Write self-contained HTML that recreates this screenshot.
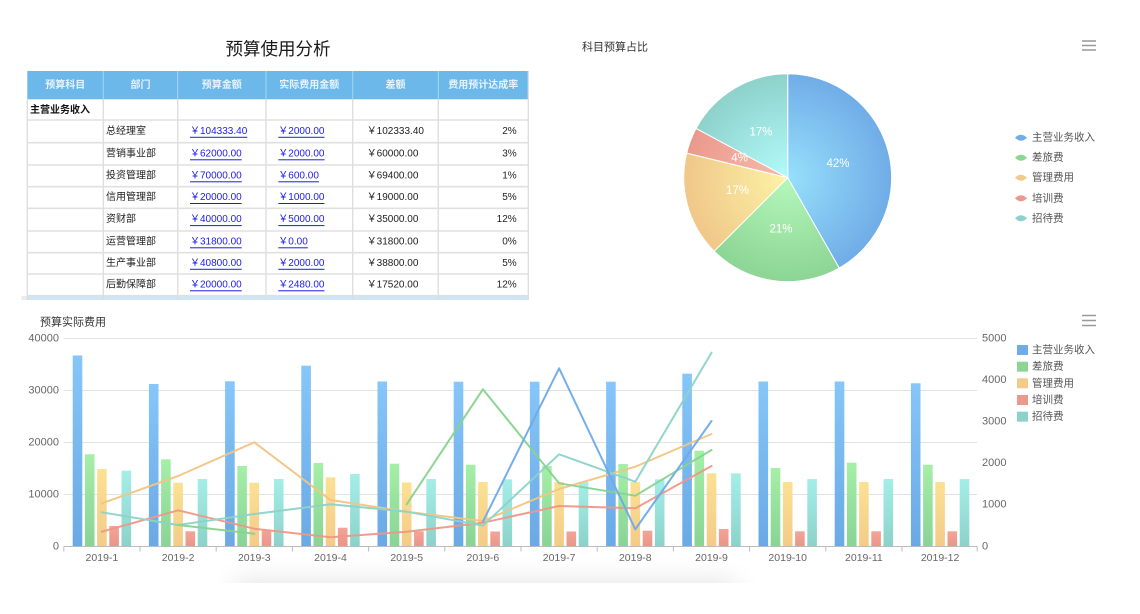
<!DOCTYPE html>
<html><head><meta charset="utf-8">
<style>
html,body{margin:0;padding:0;background:#fff;overflow:hidden;width:1140px;height:614px;}
body{position:relative;}
svg{position:absolute;left:0;top:0;display:block;}
text{font-family:"Liberation Sans","Noto Sans CJK SC",sans-serif;}
.sh{position:absolute;left:235px;top:583px;width:500px;height:31px;background:#fff;box-shadow:0 0 28px rgba(0,0,0,0.13);}
.cv{position:absolute;left:0;top:583px;width:1140px;height:31px;background:#fff;}
</style></head><body>
<div class="sh"></div><div class="cv"></div>
<svg width="1140" height="614" viewBox="0 0 1140 614" xmlns="http://www.w3.org/2000/svg">
<defs>
<linearGradient id="gb" x1="0" y1="0" x2="0" y2="1"><stop offset="0" stop-color="#86c6f9"/><stop offset="1" stop-color="#6aa9e5"/></linearGradient>
<linearGradient id="gg" x1="0" y1="0" x2="0" y2="1"><stop offset="0" stop-color="#a5efa7"/><stop offset="1" stop-color="#89d396"/></linearGradient>
<linearGradient id="gy" x1="0" y1="0" x2="0" y2="1"><stop offset="0" stop-color="#fbe193"/><stop offset="1" stop-color="#f3cb88"/></linearGradient>
<linearGradient id="gr" x1="0" y1="0" x2="0" y2="1"><stop offset="0" stop-color="#f2a596"/><stop offset="1" stop-color="#e8968a"/></linearGradient>
<linearGradient id="gt" x1="0" y1="0" x2="0" y2="1"><stop offset="0" stop-color="#a5eee8"/><stop offset="1" stop-color="#8bd2ca"/></linearGradient>
<radialGradient id="pb" cx="787.7" cy="177.7" r="104" gradientUnits="userSpaceOnUse"><stop offset="0" stop-color="#97e0fc"/><stop offset="1" stop-color="#70ace7"/></radialGradient>
<radialGradient id="pg" cx="787.7" cy="177.7" r="104" gradientUnits="userSpaceOnUse"><stop offset="0" stop-color="#b4f8bb"/><stop offset="1" stop-color="#8dd594"/></radialGradient>
<radialGradient id="py" cx="787.7" cy="177.7" r="104" gradientUnits="userSpaceOnUse"><stop offset="0" stop-color="#fdf3a6"/><stop offset="1" stop-color="#f0c789"/></radialGradient>
<radialGradient id="pr" cx="787.7" cy="177.7" r="104" gradientUnits="userSpaceOnUse"><stop offset="0" stop-color="#f7bcad"/><stop offset="1" stop-color="#ea998c"/></radialGradient>
<radialGradient id="pt" cx="787.7" cy="177.7" r="104" gradientUnits="userSpaceOnUse"><stop offset="0" stop-color="#b2fbfb"/><stop offset="1" stop-color="#8ed1cb"/></radialGradient>
</defs>

<!-- ===== Title ===== -->
<text x="278" y="49" font-size="17.5" fill="#1a1a1a" text-anchor="middle" dominant-baseline="central">预算使用分析</text>

<!-- ===== Table ===== -->
<rect x="27.3" y="71" width="501" height="28.3" fill="#6cb8ea"/>
<g stroke="#a9d6f4" stroke-width="1">
<line x1="103.3" y1="71" x2="103.3" y2="99.3"/><line x1="177.7" y1="71" x2="177.7" y2="99.3"/>
<line x1="266" y1="71" x2="266" y2="99.3"/><line x1="352.7" y1="71" x2="352.7" y2="99.3"/>
<line x1="438.3" y1="71" x2="438.3" y2="99.3"/>
</g>
<g font-size="10" font-weight="bold" fill="#e6f3fc" text-anchor="middle" dominant-baseline="central">
<text x="65.3" y="85.5">预算科目</text><text x="140.5" y="85.5">部门</text>
<text x="221.8" y="85.5">预算金额</text><text x="309.3" y="85.5">实际费用金额</text>
<text x="395.5" y="85.5">差额</text><text x="483.3" y="85.5">费用预计达成率</text>
</g>
<rect x="21.5" y="296" width="6" height="4" fill="#ececec"/>
<rect x="27.3" y="296" width="501" height="4" fill="#cde6f8"/>
<g stroke="#dcdcdc" stroke-width="1.3">
<line x1="27.3" y1="99.3" x2="27.3" y2="300"/><line x1="103.3" y1="99.3" x2="103.3" y2="300"/>
<line x1="177.7" y1="99.3" x2="177.7" y2="300"/><line x1="266" y1="99.3" x2="266" y2="300"/>
<line x1="352.7" y1="99.3" x2="352.7" y2="300"/><line x1="438.3" y1="99.3" x2="438.3" y2="300"/>
<line x1="528.3" y1="71" x2="528.3" y2="300"/>
</g>
<g stroke="#e0e0e0" stroke-width="1.6">
<line x1="27.3" y1="120" x2="528.3" y2="120"/><line x1="27.3" y1="142.7" x2="528.3" y2="142.7"/>
<line x1="27.3" y1="165" x2="528.3" y2="165"/><line x1="27.3" y1="186.7" x2="528.3" y2="186.7"/>
<line x1="27.3" y1="208.3" x2="528.3" y2="208.3"/><line x1="27.3" y1="231" x2="528.3" y2="231"/>
<line x1="27.3" y1="252.7" x2="528.3" y2="252.7"/><line x1="27.3" y1="274" x2="528.3" y2="274"/>
<line x1="27.3" y1="295.7" x2="528.3" y2="295.7"/>
</g>
<text x="30" y="110.5" font-size="10" font-weight="bold" fill="#111" dominant-baseline="central">主营业务收入</text>
<g font-size="10" fill="#222" dominant-baseline="central">
<text x="106" y="131.3">总经理室</text><text x="106" y="153.8">营销事业部</text>
<text x="106" y="175.8">投资管理部</text><text x="106" y="197.5">信用管理部</text>
<text x="106" y="219.6">资财部</text><text x="106" y="241.8">运营管理部</text>
<text x="106" y="263.3">生产事业部</text><text x="106" y="284.8">后勤保障部</text>
</g>
<g font-size="10" fill="#1c1cf0" text-decoration="underline" dominant-baseline="central">
<text x="190" y="131.3">￥104333.40</text><text x="190" y="153.8">￥62000.00</text>
<text x="190" y="175.8">￥70000.00</text><text x="190" y="197.5">￥20000.00</text>
<text x="190" y="219.6">￥40000.00</text><text x="190" y="241.8">￥31800.00</text>
<text x="190" y="263.3">￥40800.00</text><text x="190" y="284.8">￥20000.00</text>
<text x="278.3" y="131.3">￥2000.00</text><text x="278.3" y="153.8">￥2000.00</text>
<text x="278.3" y="175.8">￥600.00</text><text x="278.3" y="197.5">￥1000.00</text>
<text x="278.3" y="219.6">￥5000.00</text><text x="278.3" y="241.8">￥0.00</text>
<text x="278.3" y="263.3">￥2000.00</text><text x="278.3" y="284.8">￥2480.00</text>
</g>
<g font-size="10" fill="#222" dominant-baseline="central">
<text x="366.7" y="131.3">￥102333.40</text><text x="366.7" y="153.8">￥60000.00</text>
<text x="366.7" y="175.8">￥69400.00</text><text x="366.7" y="197.5">￥19000.00</text>
<text x="366.7" y="219.6">￥35000.00</text><text x="366.7" y="241.8">￥31800.00</text>
<text x="366.7" y="263.3">￥38800.00</text><text x="366.7" y="284.8">￥17520.00</text>
</g>
<g font-size="10" fill="#222" text-anchor="end" dominant-baseline="central">
<text x="516.7" y="131.3">2%</text><text x="516.7" y="153.8">3%</text>
<text x="516.7" y="175.8">1%</text><text x="516.7" y="197.5">5%</text>
<text x="516.7" y="219.6">12%</text><text x="516.7" y="241.8">0%</text>
<text x="516.7" y="263.3">5%</text><text x="516.7" y="284.8">12%</text>
</g>

<!-- ===== Pie ===== -->
<text x="582" y="47.5" font-size="11" fill="#333" dominant-baseline="central">科目预算占比</text>
<g stroke="#999" stroke-width="1.5"><line x1="1082" y1="41" x2="1096" y2="41"/><line x1="1082" y1="45.5" x2="1096" y2="45.5"/><line x1="1082" y1="50" x2="1096" y2="50"/></g>
<g stroke="#fff" stroke-width="1">
<path d="M787.7 177.7 L787.7 73.7 A104 104 0 0 1 839.2 268 Z" fill="url(#pb)"/>
<path d="M787.7 177.7 L839.2 268 A104 104 0 0 1 714.2 251.2 Z" fill="url(#pg)"/>
<path d="M787.7 177.7 L714.2 251.2 A104 104 0 0 1 686.7 153.1 Z" fill="url(#py)"/>
<path d="M787.7 177.7 L686.7 153.1 A104 104 0 0 1 696.1 128.4 Z" fill="url(#pr)"/>
<path d="M787.7 177.7 L696.1 128.4 A104 104 0 0 1 787.7 73.7 Z" fill="url(#pt)"/>
</g>
<g font-size="11.5" fill="#fff" text-anchor="middle" dominant-baseline="central">
<text x="838" y="164">42%</text><text x="781" y="229.5">21%</text>
<text x="737.5" y="191">17%</text><text x="739.5" y="158.5">4%</text><text x="761" y="132.5">17%</text>
</g>
<g>
<path d="M1015 137.7 Q1021 131.7 1027 137.7 Q1021 143.7 1015 137.7 Z" fill="#72ade8"/>
<path d="M1015 157.7 Q1021 151.7 1027 157.7 Q1021 163.7 1015 157.7 Z" fill="#8dd594"/>
<path d="M1015 177.7 Q1021 171.7 1027 177.7 Q1021 183.7 1015 177.7 Z" fill="#f3cb88"/>
<path d="M1015 198.3 Q1021 192.3 1027 198.3 Q1021 204.3 1015 198.3 Z" fill="#ea998c"/>
<path d="M1015 218.3 Q1021 212.3 1027 218.3 Q1021 224.3 1015 218.3 Z" fill="#8ed1cb"/>
</g>
<g font-size="10.5" fill="#555" dominant-baseline="central">
<text x="1032" y="137.7">主营业务收入</text><text x="1032" y="157.7">差旅费</text>
<text x="1032" y="177.7">管理费用</text><text x="1032" y="198.3">培训费</text><text x="1032" y="218.3">招待费</text>
</g>

<!-- ===== Bar chart ===== -->
<text x="40" y="322.5" font-size="11" fill="#333" dominant-baseline="central">预算实际费用</text>
<g stroke="#999" stroke-width="1.5"><line x1="1082" y1="315.5" x2="1096" y2="315.5"/><line x1="1082" y1="320.5" x2="1096" y2="320.5"/><line x1="1082" y1="325.5" x2="1096" y2="325.5"/></g>
<g stroke="#e2e2e2" stroke-width="1">
<line x1="63.8" y1="338.5" x2="977.2" y2="338.5"/><line x1="63.8" y1="390.5" x2="977.2" y2="390.5"/>
<line x1="63.8" y1="442.5" x2="977.2" y2="442.5"/><line x1="63.8" y1="494.5" x2="977.2" y2="494.5"/>
</g>
<g font-size="11" fill="#666" text-anchor="end" dominant-baseline="central">
<text x="59" y="338.5">40000</text><text x="59" y="390.5">30000</text><text x="59" y="442.5">20000</text>
<text x="59" y="494.5">10000</text><text x="59" y="546.5">0</text>
</g>
<g font-size="11" fill="#666" dominant-baseline="central">
<text x="982" y="338.5">5000</text><text x="982" y="380">4000</text><text x="982" y="421.5">3000</text>
<text x="982" y="463">2000</text><text x="982" y="504.5">1000</text><text x="982" y="546.5">0</text>
</g>

<!-- bars -->
<g fill="url(#gb)">
<rect x="72.7" y="355.5" width="9.6" height="191"/><rect x="148.9" y="384" width="9.6" height="162.5"/>
<rect x="225.1" y="381.3" width="9.6" height="165.2"/><rect x="301.3" y="365.7" width="9.6" height="180.8"/>
<rect x="377.5" y="381.5" width="9.6" height="165"/><rect x="453.7" y="381.7" width="9.6" height="164.8"/>
<rect x="529.9" y="381.7" width="9.6" height="164.8"/><rect x="606.1" y="381.7" width="9.6" height="164.8"/>
<rect x="682.3" y="373.7" width="9.6" height="172.8"/><rect x="758.5" y="381.5" width="9.6" height="165"/>
<rect x="834.7" y="381.5" width="9.6" height="165"/><rect x="910.9" y="383.3" width="9.6" height="163.2"/>
</g>
<g fill="url(#gg)">
<rect x="84.9" y="454.2" width="9.6" height="92.3"/><rect x="161.1" y="459.3" width="9.6" height="87.2"/>
<rect x="237.3" y="466" width="9.6" height="80.5"/><rect x="313.5" y="463" width="9.6" height="83.5"/>
<rect x="389.7" y="463.7" width="9.6" height="82.8"/><rect x="465.9" y="464.7" width="9.6" height="81.8"/>
<rect x="542.1" y="466" width="9.6" height="80.5"/><rect x="618.3" y="464" width="9.6" height="82.5"/>
<rect x="694.5" y="450.7" width="9.6" height="95.8"/><rect x="770.7" y="468" width="9.6" height="78.5"/>
<rect x="846.9" y="462.7" width="9.6" height="83.8"/><rect x="923.1" y="464.7" width="9.6" height="81.8"/>
</g>
<g fill="url(#gy)">
<rect x="97.1" y="469" width="9.6" height="77.5"/><rect x="173.3" y="482.7" width="9.6" height="63.8"/>
<rect x="249.5" y="482.7" width="9.6" height="63.8"/><rect x="325.7" y="477.3" width="9.6" height="69.2"/>
<rect x="401.9" y="482.5" width="9.6" height="64"/><rect x="478.1" y="482" width="9.6" height="64.5"/>
<rect x="554.3" y="482" width="9.6" height="64.5"/><rect x="630.5" y="482" width="9.6" height="64.5"/>
<rect x="706.7" y="473.3" width="9.6" height="73.2"/><rect x="782.9" y="482" width="9.6" height="64.5"/>
<rect x="859.1" y="482" width="9.6" height="64.5"/><rect x="935.3" y="482" width="9.6" height="64.5"/>
</g>
<g fill="url(#gr)">
<rect x="109.3" y="526" width="9.6" height="20.5"/><rect x="185.5" y="531.3" width="9.6" height="15.2"/>
<rect x="261.7" y="530.5" width="9.6" height="16"/><rect x="337.9" y="527.7" width="9.6" height="18.8"/>
<rect x="414.1" y="531.3" width="9.6" height="15.2"/><rect x="490.3" y="531.5" width="9.6" height="15"/>
<rect x="566.5" y="531.5" width="9.6" height="15"/><rect x="642.7" y="530.7" width="9.6" height="15.8"/>
<rect x="718.9" y="529" width="9.6" height="17.5"/><rect x="795.1" y="531.3" width="9.6" height="15.2"/>
<rect x="871.3" y="531.3" width="9.6" height="15.2"/><rect x="947.5" y="531.3" width="9.6" height="15.2"/>
</g>
<g fill="url(#gt)">
<rect x="121.5" y="470.7" width="9.6" height="75.8"/><rect x="197.7" y="479" width="9.6" height="67.5"/>
<rect x="273.9" y="479" width="9.6" height="67.5"/><rect x="350.1" y="474" width="9.6" height="72.5"/>
<rect x="426.3" y="479" width="9.6" height="67.5"/><rect x="502.5" y="479.3" width="9.6" height="67.2"/>
<rect x="578.7" y="482" width="9.6" height="64.5"/><rect x="654.9" y="479.3" width="9.6" height="67.2"/>
<rect x="731.1" y="473.3" width="9.6" height="73.2"/><rect x="807.3" y="479" width="9.6" height="67.5"/>
<rect x="883.5" y="479" width="9.6" height="67.5"/><rect x="959.7" y="479" width="9.6" height="67.5"/>
</g>

<!-- axis -->
<line x1="63.8" y1="546.5" x2="977.2" y2="546.5" stroke="#bbb" stroke-width="1"/>
<g stroke="#bbb" stroke-width="1">
<line x1="63.8" y1="546.5" x2="63.8" y2="551.5"/><line x1="140" y1="546.5" x2="140" y2="551.5"/>
<line x1="216.2" y1="546.5" x2="216.2" y2="551.5"/><line x1="292.4" y1="546.5" x2="292.4" y2="551.5"/>
<line x1="368.6" y1="546.5" x2="368.6" y2="551.5"/><line x1="444.8" y1="546.5" x2="444.8" y2="551.5"/>
<line x1="521" y1="546.5" x2="521" y2="551.5"/><line x1="597.2" y1="546.5" x2="597.2" y2="551.5"/>
<line x1="673.4" y1="546.5" x2="673.4" y2="551.5"/><line x1="749.6" y1="546.5" x2="749.6" y2="551.5"/>
<line x1="825.8" y1="546.5" x2="825.8" y2="551.5"/><line x1="902" y1="546.5" x2="902" y2="551.5"/>
<line x1="977.2" y1="546.5" x2="977.2" y2="551.5"/>
</g>
<g font-size="10.5" fill="#666" text-anchor="middle" dominant-baseline="central">
<text x="101.9" y="558">2019-1</text><text x="178.1" y="558">2019-2</text><text x="254.3" y="558">2019-3</text>
<text x="330.5" y="558">2019-4</text><text x="406.7" y="558">2019-5</text><text x="482.9" y="558">2019-6</text>
<text x="559.1" y="558">2019-7</text><text x="635.3" y="558">2019-8</text><text x="711.5" y="558">2019-9</text>
<text x="787.7" y="558">2019-10</text><text x="863.9" y="558">2019-11</text><text x="940.1" y="558">2019-12</text>
</g>

<!-- lines -->
<g fill="none" stroke-width="2" stroke-linejoin="round" stroke-linecap="round" opacity="0.95">
<polyline stroke="#f3c583" points="101.9,503.3 178.1,476 254.3,442.3 330.5,500 406.7,511.7 482.9,521 559.1,489 635.3,466.7 711.5,434"/>
<polyline stroke="#ee9888" points="101.9,531.7 178.1,510.3 254.3,528.7 330.5,537.3 406.7,531.7 482.9,522.7 559.1,506 635.3,508.3 711.5,466"/>
<polyline stroke="#8dd3c9" points="101.9,512.3 178.1,525 254.3,514 330.5,504.3 406.7,511.7 482.9,525.7 559.1,454.3 635.3,481.7 711.5,352.7"/>
<polyline stroke="#88d38e" points="178.1,525 254.3,533.7"/>
<polyline stroke="#88d38e" points="406.7,504.3 482.9,389.3 559.1,483.3 635.3,495.7 711.5,450"/>
<polyline stroke="#6eaae8" points="482.9,521.7 559.1,368.3 635.3,529.3 711.5,421"/>
</g>

<!-- bar legend -->
<rect x="1017" y="345" width="11" height="10" fill="#70ace7"/>
<rect x="1017" y="361.7" width="11" height="10" fill="#8dd594"/>
<rect x="1017" y="378.3" width="11" height="10" fill="#f3cb88"/>
<rect x="1017" y="395" width="11" height="10" fill="#ea998c"/>
<rect x="1017" y="411.7" width="11" height="10" fill="#8ed1cb"/>
<g font-size="10.5" fill="#555" dominant-baseline="central">
<text x="1032" y="350">主营业务收入</text><text x="1032" y="366.7">差旅费</text>
<text x="1032" y="383.3">管理费用</text><text x="1032" y="400">培训费</text><text x="1032" y="416.7">招待费</text>
</g>
</svg>
</body></html>
